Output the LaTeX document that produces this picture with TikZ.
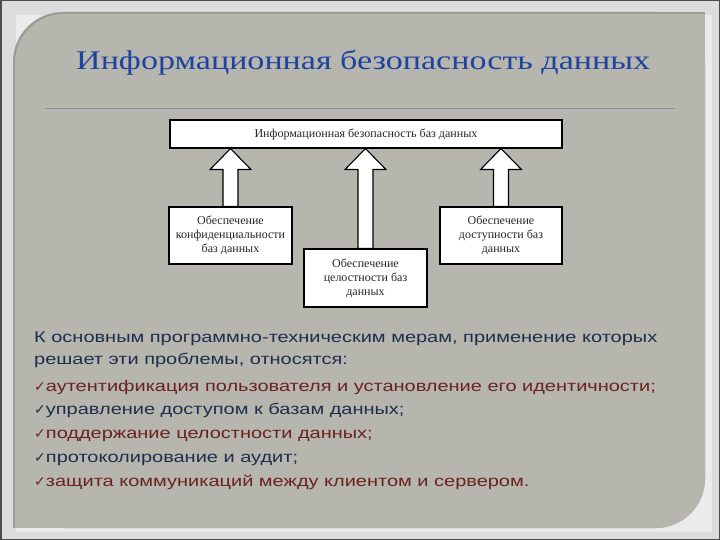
\documentclass[tikz,border=0pt]{standalone}
\usepackage{fontspec}
\usepackage{graphicx}
\setmainfont{Liberation Serif}
\newfontfamily\bodyfont{Liberation Sans}
\newfontfamily\symfont{DejaVu Sans}
\usetikzlibrary{calc}
\definecolor{outerbg}{HTML}{DCDCDC}
\definecolor{panelbg}{HTML}{B6B5AE}
\definecolor{titleblue}{HTML}{1E44A0}
\definecolor{txtblue}{HTML}{1E2E4C}
\definecolor{txtred}{HTML}{6B2222}
\definecolor{rule}{HTML}{7F93B0}
\newsavebox\lineA
\sbox\lineA{\bodyfont\fontsize{15.5pt}{18pt}\selectfont К основным программно-техническим мерам, применение которых}
\newsavebox\titlebox
\sbox\titlebox{\color{titleblue}\fontsize{27pt}{31pt}\selectfont Информационная безопасность данных}
\newcommand\chk{{\symfont\fontsize{14pt}{15pt}\selectfont ✓}}
\tikzset{
  diagbox/.style={draw=black, line width=1.1pt, fill=white, inner sep=0pt,
    align=center, font=\fontsize{12pt}{14pt}\selectfont, text=black!85},
  barrow/.style={draw=black, line width=1.1pt, fill=white, line join=miter},
  bodyline/.style={anchor=base west, inner sep=0pt, font=\bodyfont\fontsize{15.5pt}{18pt}\selectfont}
}
\newcommand\blockarrow[2]{%
  \draw[barrow] ($(#1.north)+(-7.5,0)$) -- ($(#1.north |- #2.south)+(-7.5,21)$)
    -- ($(#1.north |- #2.south)+(-20.5,21)$) -- (#1.north |- #2.south)
    -- ($(#1.north |- #2.south)+(20.5,21)$) -- ($(#1.north |- #2.south)+(7.5,21)$)
    -- ($(#1.north)+(7.5,0)$) -- cycle;}
\begin{document}
\begin{tikzpicture}[x=1pt,y=-1pt]
\pgfmathsetmacro\sx{623/\the\wd\lineA}
\pgfmathsetmacro\tx{574/\the\wd\titlebox}
\useasboundingbox (0,0) rectangle (720,540);
% outer frame
\fill[outerbg] (0,0) rectangle (720,540);
\draw[black!70, line width=1.5pt] (0.75,0.75) rectangle (719.25,539.25);
% panel
\fill[white!92!black] (16,15) rectangle (712,532);
\fill[panelbg!85!black, rounded corners=50] (13,12) rectangle (705,528);
\fill[panelbg!85!black] (655,12) rectangle (705,63);
\fill[panelbg!85!black] (13,478) rectangle (64,528);
\fill[panelbg, rounded corners=49] (15,14) rectangle (705,528);
\fill[panelbg] (655,14) rectangle (705,63);
\fill[panelbg] (15,478) rectangle (64,528);
% title
\node[inner sep=0pt, anchor=base west] (title) at (76,69.5) {\scalebox{\tx}[1]{\usebox\titlebox}};
\draw[rule, line width=0.8pt] (45,108) -- (675,108);
% diagram
\node[diagbox, minimum width=392, minimum height=28] (top) at (366,134)
  {\resizebox{223pt}{\height}{Информационная безопасность баз данных}};
\node[diagbox, minimum width=123, minimum height=57] (conf) at (230.5,235.5)
  {Обеспечение\\конфиденциальности\\баз данных};
\node[diagbox, minimum width=123, minimum height=58] (integ) at (365.5,278)
  {Обеспечение\\целостности баз\\данных};
\node[diagbox, minimum width=122, minimum height=57] (avail) at (501,235.5)
  {Обеспечение\\доступности баз\\данных};
\blockarrow{conf}{top}
\blockarrow{integ}{top}
\blockarrow{avail}{top}
% body text
\node[bodyline, text=txtblue] (l1) at (34,342) {\scalebox{\sx}[1]{К основным программно-техническим мерам, применение которых}};
\node[bodyline, text=txtblue] (l2) at (34,364) {\scalebox{\sx}[1]{решает эти проблемы, относятся:}};
\node[bodyline, text=txtred] (l3) at (34,391) {\chk\scalebox{\sx}[1]{аутентификация пользователя и установление его идентичности;}};
\node[bodyline, text=txtblue] (l4) at (34,414.5) {\chk\scalebox{\sx}[1]{управление доступом к базам данных;}};
\node[bodyline, text=txtred] (l5) at (34,438) {\chk\scalebox{\sx}[1]{поддержание целостности данных;}};
\node[bodyline, text=txtblue] (l6) at (34,462) {\chk\scalebox{\sx}[1]{протоколирование и аудит;}};
\node[bodyline, text=txtred] (l7) at (34,486) {\chk\scalebox{\sx}[1]{защита коммуникаций между клиентом и сервером.}};
\end{tikzpicture}
\end{document}
